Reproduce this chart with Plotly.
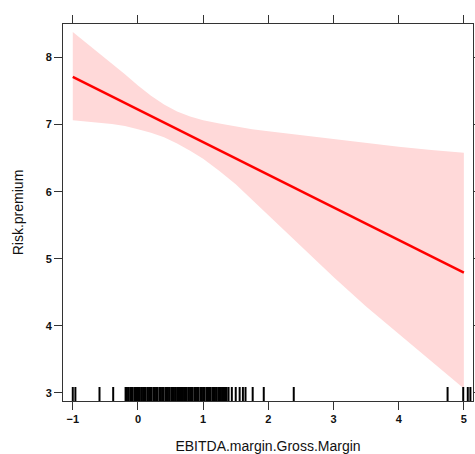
import plotly.graph_objects as go

# Effect line (fitted values at the ends of the x range)
fit_x = [-1.0, 5.0]
fit_y = [7.71, 4.795]

# Confidence band
band_x = [-1.0, -0.8, -0.6, -0.4, -0.2, 0.0, 0.2, 0.4, 0.6, 0.8, 1.0, 1.25, 1.5, 1.75, 2.0, 2.5, 3.0, 3.5, 4.0, 4.5, 5.0]
band_upper = [8.38, 8.225, 8.07, 7.91, 7.75, 7.585, 7.43, 7.30, 7.195, 7.12, 7.065, 7.016, 6.97, 6.93, 6.90, 6.84, 6.78, 6.72, 6.67, 6.62, 6.58]
band_lower = [7.065, 7.05, 7.03, 7.01, 6.98, 6.93, 6.88, 6.81, 6.72, 6.61, 6.49, 6.31, 6.11, 5.885, 5.65, 5.19, 4.73, 4.29, 3.88, 3.47, 3.065]

# Rug of observed x values
rug_x = [-1.00, -0.96, -0.59, -0.38,
         -0.19, -0.17, -0.15, -0.12, -0.10, -0.08, -0.05, -0.03, -0.01, 0.01, 0.03, 0.06, 0.08,
         0.10, 0.12, 0.15, 0.17, 0.19, 0.21, 0.24, 0.26, 0.28, 0.30, 0.33, 0.35, 0.37, 0.39,
         0.42, 0.44, 0.46, 0.48, 0.51, 0.53, 0.55, 0.57, 0.60, 0.62, 0.64, 0.66, 0.69, 0.71,
         0.73, 0.75, 0.78, 0.80, 0.82, 0.84, 0.87, 0.89, 0.91, 0.93, 0.96, 0.98, 1.00, 1.02,
         1.05, 1.07, 1.09, 1.11, 1.14, 1.16, 1.18, 1.20, 1.23, 1.25, 1.27, 1.29, 1.32, 1.34, 1.36,
         1.39, 1.44, 1.50, 1.56, 1.61, 1.65, 1.76, 1.93, 2.39, 4.75, 4.99, 5.06, 5.10]

x_ticks = [-1, 0, 1, 2, 3, 4, 5]
y_ticks = [3, 4, 5, 6, 7, 8]

fig = go.Figure()

fig.add_trace(go.Scatter(
    x=band_x + band_x[::-1],
    y=band_upper + band_lower[::-1],
    fill="toself", fillcolor="rgb(255,217,217)",
    line=dict(width=0), mode="lines", hoverinfo="skip", showlegend=False,
))
fig.add_trace(go.Scatter(
    x=fit_x, y=fit_y, mode="lines",
    line=dict(color="#ff0000", width=2.5), showlegend=False,
))
fig.add_trace(go.Scatter(
    x=rug_x, y=[0] * len(rug_x), yaxis="y2", mode="markers",
    marker=dict(symbol="line-ns-open", size=20, color="black", line=dict(color="black", width=2)),
    cliponaxis=True, showlegend=False,
))

axis_common = dict(
    showline=True, linecolor="#333333", linewidth=1, mirror="ticks",
    ticks="outside", ticklen=8, tickwidth=1, tickcolor="#333333",
    showgrid=False, zeroline=False, automargin=False,
    tickfont=dict(family="Liberation Sans, Arial, sans-serif", size=11, color="#111111", weight="bold"),
)

fig.update_layout(
    width=475, height=454,
    margin=dict(l=63, r=2, t=24, b=53),
    plot_bgcolor="white", paper_bgcolor="white",
    font=dict(family="Liberation Sans, Arial, sans-serif", color="#111111"),
    xaxis=dict(range=[-1.15, 5.14], tickvals=x_ticks, ticktext=[("−1" if v == -1 else str(v)) for v in x_ticks],
               title=dict(text="EBITDA.margin.Gross.Margin", font=dict(size=14), standoff=18),
               **axis_common),
    yaxis=dict(range=[2.88, 8.5], tickvals=y_ticks,
               title=dict(text="Risk.premium", font=dict(size=14), standoff=18),
               **axis_common),
    yaxis2=dict(range=[0, 1], overlaying="y", visible=False, fixedrange=True),
)

fig.write_html(
    "out.html",
    config={"displayModeBar": False},
    post_script="document.body.style.margin='0';document.body.style.overflow='hidden';",
)
